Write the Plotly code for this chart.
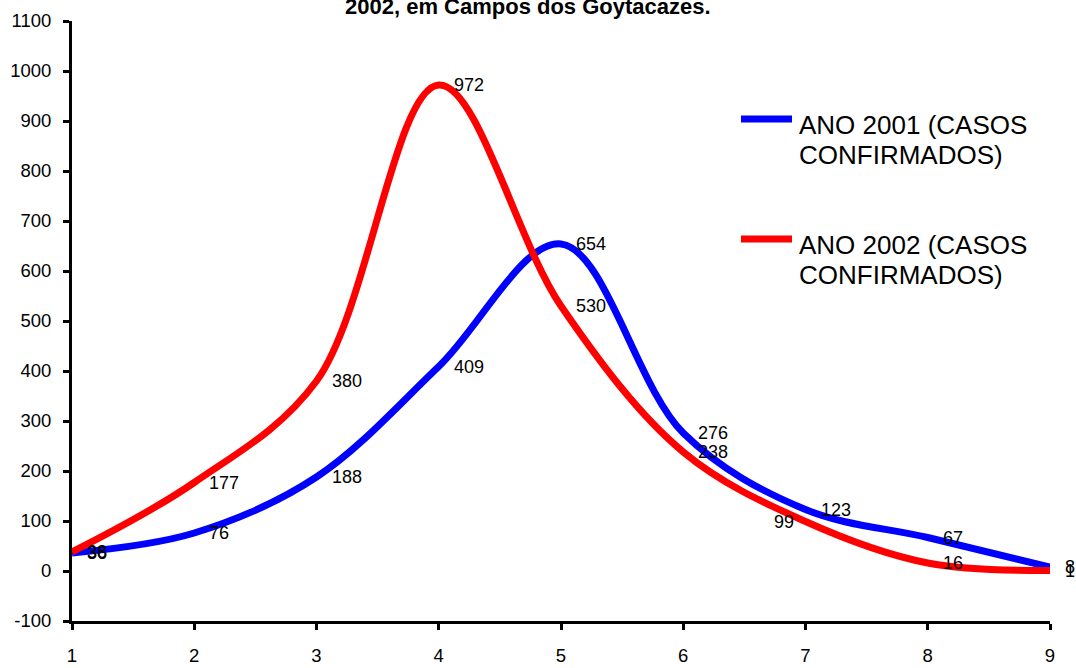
import plotly.graph_objects as go

# Confirmed cases per period in Campos dos Goytacazes
periodo = [1, 2, 3, 4, 5, 6, 7, 8, 9]
casos_2001 = [36, 76, 188, 409, 654, 276, 123, 67, 8]
casos_2002 = [38, 177, 380, 972, 530, 238, 99, 16, 1]

nome_2001 = ["ANO 2001 (CASOS", "CONFIRMADOS)"]
nome_2002 = ["ANO 2002 (CASOS", "CONFIRMADOS)"]
titulo = "2002, em Campos dos Goytacazes."

y_ticks = list(range(-100, 1101, 100))
y_ticktext = [str(v) for v in y_ticks]  # plain hyphen for negatives

AZUL = "#0000FF"
VERMELHO = "#FF0000"
FONTE = "Liberation Sans, Arial, sans-serif"

# plot-area geometry (pixels)
W, H = 1076, 668
ML, MR, MT, MB = 72, 26, 21, 47
PW, PH = W - ML - MR, H - MT - MB


def px_x(p):
    return (p - ML) / PW


def px_y(p):
    return (H - MB - p) / PH


fig = go.Figure()
for vals, cor in ((casos_2001, AZUL), (casos_2002, VERMELHO)):
    fig.add_trace(go.Scatter(
        x=periodo, y=vals, mode="lines",
        line=dict(color=cor, width=7, shape="spline", smoothing=1.0),
        showlegend=False, cliponaxis=False, hoverinfo="skip",
    ))

anotacoes = []
# value labels next to each point
for vals, lado in ((casos_2001, {}), (casos_2002, {6: "left"})):
    for i, (xv, yv) in enumerate(zip(periodo, vals)):
        esquerda = lado.get(i) == "left"
        anotacoes.append(dict(
            x=xv, y=yv, xref="x", yref="y", text=str(yv), showarrow=False,
            xanchor="right" if esquerda else "left", yanchor="middle",
            xshift=-10 if esquerda else 13,
            font=dict(family=FONTE, size=18, color="black"),
        ))

# legend texts, one annotation per line
for linhas, ypix in ((nome_2001, 125), (nome_2002, 245)):
    for k, linha in enumerate(linhas):
        anotacoes.append(dict(
            x=px_x(797), y=px_y(ypix + 30 * k), xref="paper", yref="paper",
            text=linha, showarrow=False, xanchor="left", yanchor="middle",
            align="left", font=dict(family=FONTE, size=26, color="black"),
        ))

# title line
anotacoes.append(dict(
    x=px_x(528), y=px_y(7), xref="paper", yref="paper", text="<b>" + titulo + "</b>",
    showarrow=False, xanchor="center", yanchor="middle",
    font=dict(family=FONTE, size=22, color="black"),
))

# legend swatches
formas = []
for cor, ypix in ((AZUL, 119), (VERMELHO, 239)):
    formas.append(dict(
        type="line", xref="paper", yref="paper",
        x0=px_x(741), x1=px_x(792), y0=px_y(ypix), y1=px_y(ypix),
        line=dict(color=cor, width=7),
    ))

fig.update_layout(
    width=W, height=H,
    margin=dict(l=ML, r=MR, t=MT, b=MB, pad=0, autoexpand=False),
    paper_bgcolor="white", plot_bgcolor="white",
    font=dict(family=FONTE, color="black"),
    annotations=anotacoes, shapes=formas,
    xaxis=dict(
        range=[1, 9], tickmode="array", tickvals=periodo,
        ticktext=[str(p) for p in periodo], automargin=False,
        showline=True, linecolor="black", linewidth=3,
        ticks="outside", ticklen=6, tickwidth=3, tickcolor="black",
        showgrid=False, zeroline=False, ticklabelstandoff=10,
        tickfont=dict(family=FONTE, size=18.5, color="black"),
    ),
    yaxis=dict(
        range=[-100, 1100], tickmode="array", tickvals=y_ticks,
        ticktext=y_ticktext, automargin=False,
        showline=True, linecolor="black", linewidth=3,
        ticks="outside", ticklen=6, tickwidth=3, tickcolor="black",
        showgrid=False, zeroline=False, ticklabelstandoff=8,
        tickfont=dict(family=FONTE, size=18.5, color="black"),
    ),
)

fig.write_html("out.html")
